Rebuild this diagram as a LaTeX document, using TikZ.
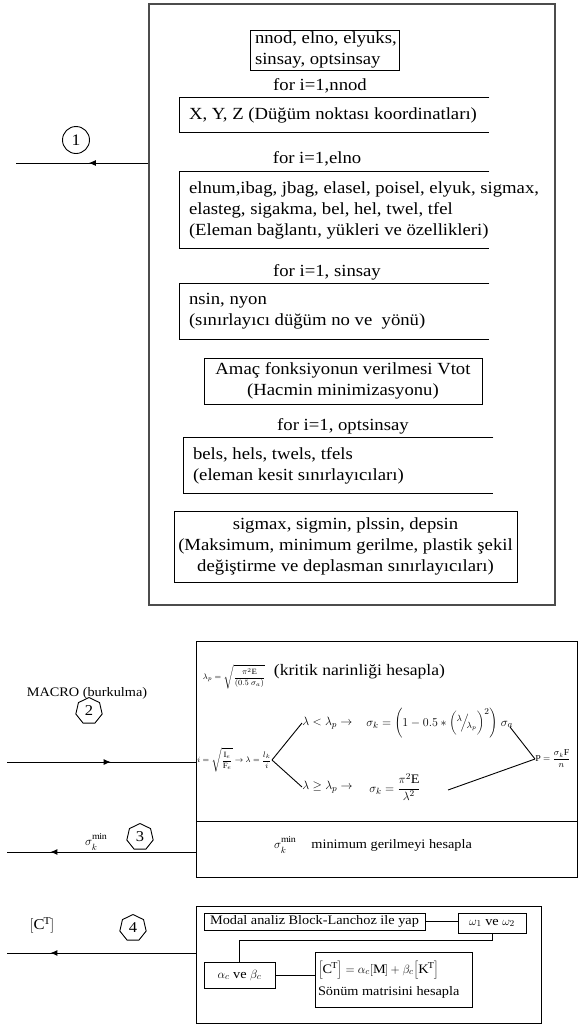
\documentclass[tikz,border=0pt]{standalone}
\usepackage{fontspec}
\setmainfont[FakeStretch=1.1]{Liberation Serif}
\usetikzlibrary{shapes.geometric,arrows.meta,decorations.markings}

\tikzset{
  box/.style={draw, inner sep=0pt},
  empty/.style={inner sep=0pt},
  txt/.style={font=\fontsize{17}{21}\selectfont, inner sep=0pt},
  small/.style={font=\fontsize{13}{15}\selectfont, inner sep=0pt},
  formula/.style={font=\fontsize{13}{15}\selectfont, inner sep=0pt},
  tiny/.style={font=\fontsize{8}{9}\selectfont, inner sep=0pt},
  heptagon/.style={draw, regular polygon, regular polygon sides=7, minimum size=27, inner sep=0pt, font=\fontsize{15}{15}\selectfont},
  midarrow/.style={postaction={decorate}, decoration={markings, mark=at position #1 with {\arrow{Latex[length=7pt,width=6pt]}}}}
}
\newcommand{\sigmin}{$\sigma_{\lower1.5pt\hbox{$\scriptstyle k$}}^{\raise2pt\hbox{$\scriptstyle\mathrm{min}$}}$}

\begin{document}
\begin{tikzpicture}[x=1pt,y=-1pt,line width=0.9pt]
\useasboundingbox (0,0) rectangle (579,1026);

% input block
\node[box, draw=black!70, line width=1.3pt, minimum width=406, minimum height=601] (inblock) at (352,304.5) {};
\coordinate (out1) at (16,163);
\draw[midarrow=0.45] (inblock.west |- out1) -- (out1);
\node[draw, circle, minimum size=27, inner sep=0pt, font=\fontsize{16}{16}\selectfont] (c1) at (76,140) {1};

\node[box, minimum width=149, minimum height=40] (counts) at (324.5,50) {};
\node[txt, align=left, anchor=west] (countst) at ([xshift=5]counts.west) {nnod, elno, elyuks,\\sinsay, optsinsay};

\node[txt] (for1) at (320,86) {for i=1,nnod};
\node[empty, minimum width=309, minimum height=34] (xyz) at (334.5,115) {};
\draw (xyz.north east) -- (xyz.north west) -- (xyz.south west) -- (xyz.south east);
\node[txt, anchor=west] (xyzt) at ([xshift=9]xyz.west) {X, Y, Z (Düğüm noktası koordinatları)};

\node[txt] (for2) at (317,159) {for i=1,elno};
\node[empty, minimum width=309, minimum height=76] (elem) at (334.5,210) {};
\draw (elem.north east) -- (elem.north west) -- (elem.south west) -- (elem.south east);
\node[txt, align=left, anchor=west] (elemt) at ([xshift=9]elem.west) {elnum,ibag, jbag, elasel, poisel, elyuk, sigmax,\\elasteg, sigakma, bel, hel, twel, tfel\\(Eleman bağlantı, yükleri ve özellikleri)};

\node[txt] (for3) at (327,272) {for i=1, sinsay};
\node[empty, minimum width=309, minimum height=55] (supp) at (334.5,311.5) {};
\draw (supp.north east) -- (supp.north west) -- (supp.south west) -- (supp.south east);
\node[txt, align=left, anchor=west] (suppt) at ([xshift=9]supp.west) {nsin, nyon\\(sınırlayıcı düğüm no ve\ \ yönü)};

\node[box, txt, align=center, minimum width=278, minimum height=46] (goal) at (343,381) {Amaç fonksiyonun verilmesi Vtot\\(Hacmin minimizasyonu)};

\node[txt] (for4) at (343,426) {for i=1, optsinsay};
\node[empty, minimum width=309, minimum height=55] (sect) at (338.5,465.5) {};
\draw (sect.north east) -- (sect.north west) -- (sect.south west) -- (sect.south east);
\node[txt, align=left, anchor=west] (sectt) at ([xshift=9]sect.west) {bels, hels, twels, tfels\\(eleman kesit sınırlayıcıları)};

\node[box, txt, align=center, minimum width=343, minimum height=71] (limits) at (345.5,546.5) {sigmax, sigmin, plssin, depsin\\(Maksimum, minimum gerilme, plastik şekil\\değiştirme ve deplasman sınırlayıcıları)};

% buckling macro
\node[box, minimum width=381, minimum height=180] (buck) at (386.5,731) {};
\node[box, minimum width=381, minimum height=56] (minbox) at (386.5,849) {};
\coordinate (in2) at (7,762);
\draw[midarrow=0.55] (in2) -- (buck.west |- in2);
\node[small] (macro) at (87,693) {MACRO (burkulma)};
\node[heptagon] (h2) at (89,711) {2};

\node[tiny] (lamp) at (234,677) {$\displaystyle\lambda_p=\sqrt{\frac{\pi^2\mathrm{E}}{(0.5\ \sigma_a)}}$};
\node[txt, font=\fontsize{16}{19}\selectfont] (crit) at (359.5,672) {(kritik narinliği hesapla)};
\node[tiny, anchor=east] (ifor) at (272,760) {$\displaystyle i=\sqrt{\frac{\mathrm{I}_e}{\mathrm{F}_e}}\rightarrow\lambda=\frac{l_k}{i}$};
\node[formula, anchor=west] (lt) at (302,723) {$\lambda<\lambda_p\rightarrow$};
\node[formula, anchor=west] (sig1) at (366,723) {$\sigma_k=\Bigg(1-0.5*\bigg({}^{\lambda}\!\Big/\!{}_{\lambda_p}\bigg)^{2}\Bigg)\ \sigma_a$};
\node[formula, anchor=west] (ge) at (302,787) {$\lambda\geq\lambda_p\rightarrow$};
\node[formula, anchor=west] (sig2) at (369,787) {$\displaystyle\sigma_k=\frac{\pi^2\mathrm{E}}{\lambda^2}$};
\node[font=\fontsize{9}{10}\selectfont, inner sep=0pt, anchor=west] (pfor) at (535,759) {$\mathrm{P}=\displaystyle\frac{\sigma_k\mathrm{F}}{n}$};
\draw (ifor.east) -- (lt.west);
\draw (ifor.east) -- (ge.west);
\coordinate (sigend) at (510,727);
\coordinate (lowend) at (448,790);
\draw (sigend) -- (pfor.west);
\draw (lowend) -- (pfor.west);

% minimum stress
\coordinate (out3) at (7,852);
\draw[midarrow=0.77] (minbox.west |- out3) -- (out3);
\node[small] (smin3) at (96,842) {\sigmin};
\node[heptagon] (h3) at (140,837) {3};
\node[small] (smin) at (285,845) {\sigmin};
\node[small, anchor=west] (mint) at (311,845) {minimum gerilmeyi hesapla};

% damping matrix
\node[box, minimum width=345, minimum height=117] (damp) at (368.5,964.5) {};
\coordinate (out4) at (7,953);
\draw[midarrow=0.77] (damp.west |- out4) -- (out4);
\node[font=\fontsize{15}{17}\selectfont, inner sep=0pt] (ct) at (42,925) {$\Big[\mathrm{C}^{\mathrm{T}}\Big]$};
\node[heptagon] (h4) at (133,928) {4};

\node[box, small, minimum width=221, minimum height=17] (modal) at (314.5,921.5) {Modal analiz Block-Lanchoz ile yap};
\node[box, small, minimum width=68, minimum height=20] (omega) at (492,923) {$\omega_1$\ ve\ $\omega_2$};
\node[box, small, minimum width=71, minimum height=26] (alpha) at (239.5,975) {$\alpha_c$\ ve\ $\beta_c$};
\node[box, minimum width=157, minimum height=55] (cmat) at (393.5,979.5) {};
\node[small, align=left, anchor=west] (cmatt) at ([xshift=3]cmat.west) {$\Big[\mathrm{C}^{\mathrm{T}}\Big]=\alpha_c[\mathrm{M}]+\beta_c\Big[\mathrm{K}^{\mathrm{T}}\Big]$\\[6pt]Sönüm matrisini hesapla};
\draw (modal.east) -- (modal.east -| omega.west);
\draw (omega.south) -- ++(0,7) -| (alpha.north);
\draw (alpha.east) -- (alpha.east -| cmat.west);

\end{tikzpicture}
\end{document}
